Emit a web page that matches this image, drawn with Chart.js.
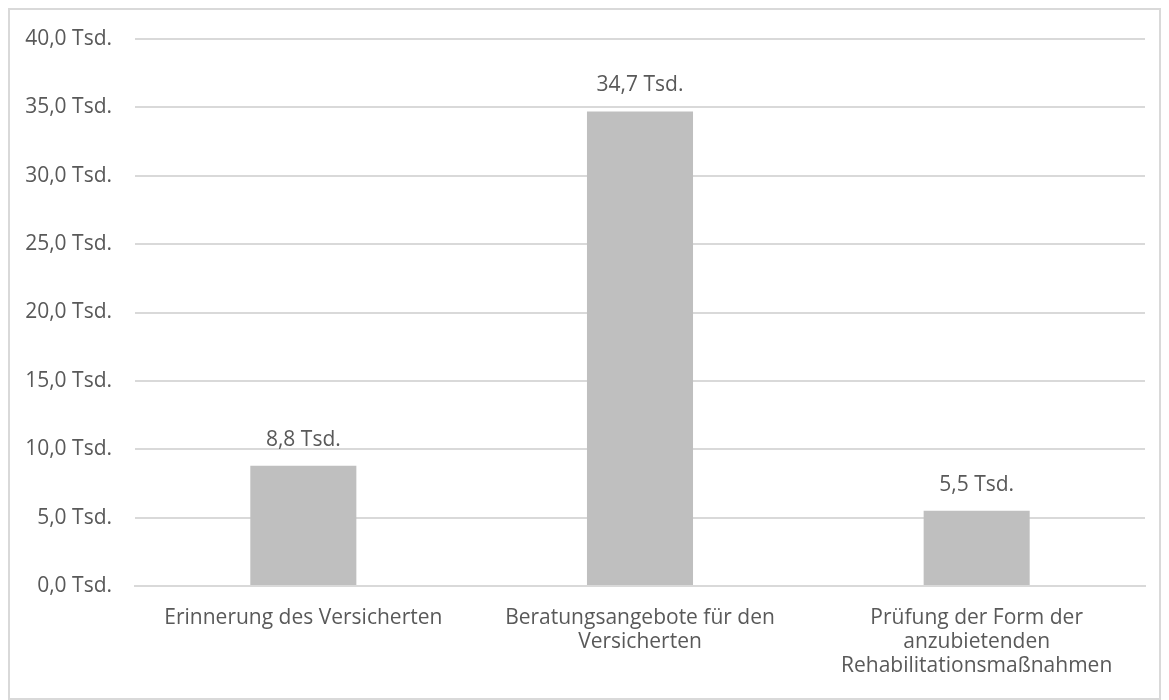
<!DOCTYPE html>
<html>
<head>
<meta charset="utf-8">
<script src="https://cdn.jsdelivr.net/npm/chart.js@4"></script>
<style>
  html, body { margin: 0; padding: 0; background: #fff; }
  #wrap { position: relative; width: 1169px; height: 700px; }
</style>
</head>
<body>
<div id="wrap"><canvas id="c"></canvas></div>
<script>
const categories = [
  ["Erinnerung des Versicherten"],
  ["Beratungsangebote für den", "Versicherten"],
  ["Prüfung der Form der", "anzubietenden", "Rehabilitationsmaßnahmen"]
];
const values = [8.8, 34.7, 5.5];
const yMin = 0, yMax = 40, yStep = 5;

const FONT = "'Open Sans', sans-serif";
const FS = 21;
const TEXT = "#595959";
const fmt = v => v.toFixed(1).replace(".", ",") + " Tsd.";

const frame = {
  id: "frame",
  beforeDraw(chart) {
    const ctx = chart.ctx;
    ctx.save();
    ctx.fillStyle = "#fff";
    ctx.fillRect(0, 0, chart.width, chart.height);
    ctx.strokeStyle = "#d9d9d9";
    ctx.lineWidth = 2;
    ctx.strokeRect(9, 9, chart.width - 18, chart.height - 10);
    ctx.restore();
  }
};
const dataLabels = {
  id: "dataLabels",
  afterDatasetsDraw(chart) {
    const ctx = chart.ctx;
    ctx.save();
    ctx.font = FS + "px " + FONT;
    ctx.fillStyle = TEXT;
    ctx.textAlign = "center";
    ctx.textBaseline = "middle";
    chart.getDatasetMeta(0).data.forEach((bar, i) => {
      ctx.fillText(fmt(chart.data.datasets[0].data[i]), bar.x, bar.y - 26);
    });
    ctx.restore();
  }
};

new Chart(document.getElementById("c"), {
  type: "bar",
  data: {
    labels: categories,
    datasets: [{
      data: values,
      backgroundColor: "#bfbfbf",
      borderWidth: 0,
      categoryPercentage: 1,
      barPercentage: 0.315
    }]
  },
  options: {
    responsive: true,
    maintainAspectRatio: false,
    animation: false,
    layout: { padding: { top: 39, left: 0, right: 24, bottom: 10 } },
    plugins: { legend: { display: false }, tooltip: { enabled: false } },
    scales: {
      x: {
        grid: { display: false, drawTicks: false },
        border: { display: true, color: "#d9d9d9", width: 2 },
        ticks: {
          color: TEXT,
          font: { family: FONT, size: FS, lineHeight: 24 / FS },
          padding: 20,
          maxRotation: 0,
          autoSkip: false
        },
        afterFit(s) { s.height = 104; }
      },
      y: {
        min: yMin, max: yMax,
        grid: { color: "#d9d9d9", lineWidth: 2, drawTicks: false },
        border: { display: false },
        ticks: {
          stepSize: yStep,
          color: TEXT,
          font: { family: FONT, size: FS },
          padding: 23,
          callback: v => fmt(v)
        },
        afterFit(s) { s.width = 135; }
      }
    }
  },
  plugins: [frame, dataLabels]
});
</script>
</body>
</html>
